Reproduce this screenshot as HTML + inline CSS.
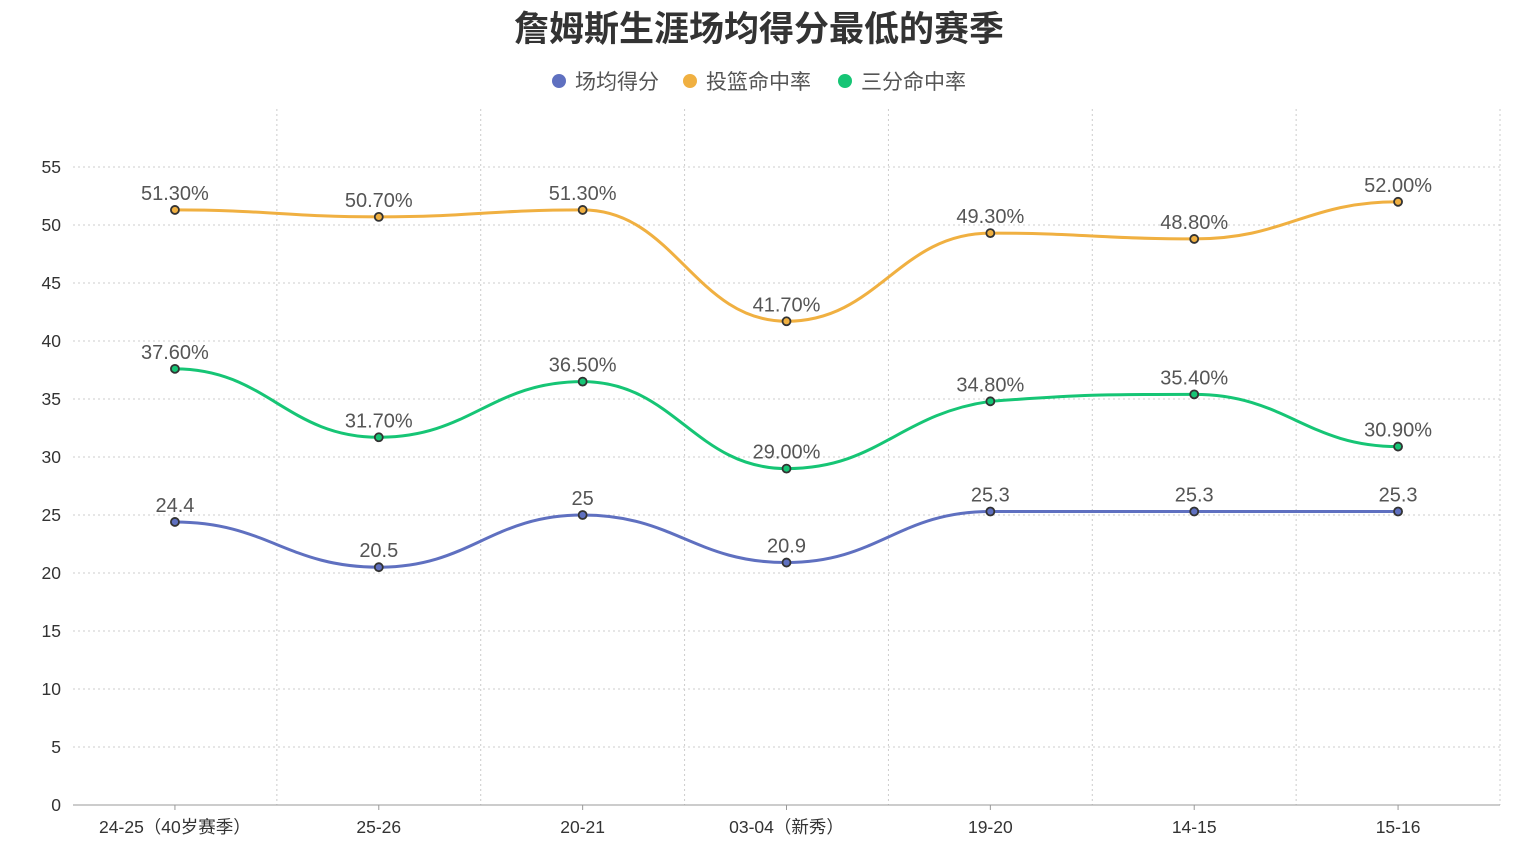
<!DOCTYPE html>
<html><head><meta charset="utf-8">
<style>
html,body{margin:0;padding:0;background:#fff;}
svg{display:block;font-family:"Liberation Sans","Noto Sans CJK SC",sans-serif;}
</style></head>
<body>
<svg id="chart" width="1519" height="852" viewBox="0 0 1519 852" xmlns="http://www.w3.org/2000/svg">
<text x="759" y="41" text-anchor="middle" font-size="35" font-weight="bold" fill="#333">詹姆斯生涯场均得分最低的赛季</text>
<g id="legend"></g>
<g id="grid"></g>
<g id="axes"></g>
<g id="series"></g>
</svg>
<script>
const categories = ["24-25（40岁赛季）","25-26","20-21","03-04（新秀）","19-20","14-15","15-16"];
const pointsPerGame = [24.4,20.5,25,20.9,25.3,25.3,25.3];
const fgPct = [51.3,50.7,51.3,41.7,49.3,48.8,52.0];
const threePct = [37.6,31.7,36.5,29.0,34.8,35.4,30.9];
const yTicks = [0,5,10,15,20,25,30,35,40,45,50,55];
const seriesNames = ["场均得分","投篮命中率","三分命中率"];

const NS="http://www.w3.org/2000/svg";
const left=73,right=1500,bottom=805,yMax=60,topY=805-60*11.6;
const band=(right-left)/categories.length;
const x=i=>left+band*(i+0.5);
const y=v=>bottom-(bottom-topY)*v/yMax;
function mk(tag,attrs,parent,text){const e=document.createElementNS(NS,tag);for(const k in attrs)e.setAttribute(k,attrs[k]);if(text!==undefined)e.textContent=text;parent.appendChild(e);return e;}
const grid=document.getElementById('grid'),axes=document.getElementById('axes'),ser=document.getElementById('series'),leg=document.getElementById('legend');

yTicks.forEach(t=>{
  if(t>0){const l=mk('line',{x1:left,x2:right,y1:y(t),y2:y(t),stroke:'#ccc','stroke-dasharray':'2,3'},grid);
  
  }
  const tx=mk('text',{x:61,y:y(t)+6,'text-anchor':'end','font-size':17.5,fill:'#333'},axes,String(t));
  
  
});
for(let i=1;i<=categories.length;i++){
  const gx=left+band*i;
  const l=mk('line',{x1:gx,x2:gx,y1:topY,y2:bottom,stroke:'#ccc','stroke-dasharray':'2,3'},grid);
  
  
}
const ax=mk('line',{x1:left,x2:right,y1:bottom,y2:bottom,stroke:'#999'},axes);


categories.forEach((c,i)=>{
  const tk=mk('line',{x1:x(i),x2:x(i),y1:bottom,y2:bottom+5,stroke:'#999'},axes);
  
  
  const t=mk('text',{x:x(i),y:833,'text-anchor':'middle','font-size':17.5,fill:'#333'},axes,c);
  
  
});

function smoothPath(pts){
  let d=`M${pts[0][0]},${pts[0][1]}`;const s=0.35;
  for(let i=0;i<pts.length-1;i++){
    const p0=pts[Math.max(0,i-1)],p1=pts[i],p2=pts[i+1],p3=pts[Math.min(pts.length-1,i+2)];
    let c1y=p1[1]+(p2[1]-p0[1])*s*0.5, c2y=p2[1]-(p3[1]-p1[1])*s*0.5;
    const lo=Math.min(p1[1],p2[1]),hi=Math.max(p1[1],p2[1]);
    const prevExt=(i===0)||((p1[1]-p0[1])*(p2[1]-p1[1])<=0);
    const nextExt=(i===pts.length-2)||((p2[1]-p1[1])*(p3[1]-p2[1])<=0);
    if(prevExt)c1y=p1[1]; if(nextExt)c2y=p2[1];
    c1y=Math.min(hi,Math.max(lo,c1y));c2y=Math.min(hi,Math.max(lo,c2y));
    const dx=(p2[0]-p1[0])*0.45;
    d+=` C${p1[0]+dx},${c1y} ${p2[0]-dx},${c2y} ${p2[0]},${p2[1]}`;
  }
  return d;
}
const seriesData=[pointsPerGame,fgPct,threePct];
const colors=['#5f70c0','#f0b041','#16c575'];
const fmt=[v=>String(v),v=>v.toFixed(2)+'%',v=>v.toFixed(2)+'%'];
seriesData.forEach((data,si)=>{
  const pts=data.map((v,i)=>[x(i),y(v)]);
  const p=mk('path',{d:smoothPath(pts),fill:'none',stroke:colors[si],'stroke-width':3},ser);
  
  
  data.forEach((v,i)=>{
    const c=mk('circle',{cx:x(i),cy:y(v),r:4,fill:colors[si],stroke:'#333','stroke-width':1.8},ser);
    
    
    const t=mk('text',{x:x(i),y:y(v)-10,'text-anchor':'middle','font-size':20,fill:'#555'},ser,fmt[si](v));
    
    
  });
});
const legX=[559,690,845];
seriesNames.forEach((n,i)=>{
  const c=mk('circle',{cx:legX[i],cy:81,r:7,fill:colors[i]},leg);
  
  
  const t=mk('text',{x:legX[i]+16,y:89,'font-size':21,fill:'#555'},leg,n);
  
  
});
</script>
</body></html>
